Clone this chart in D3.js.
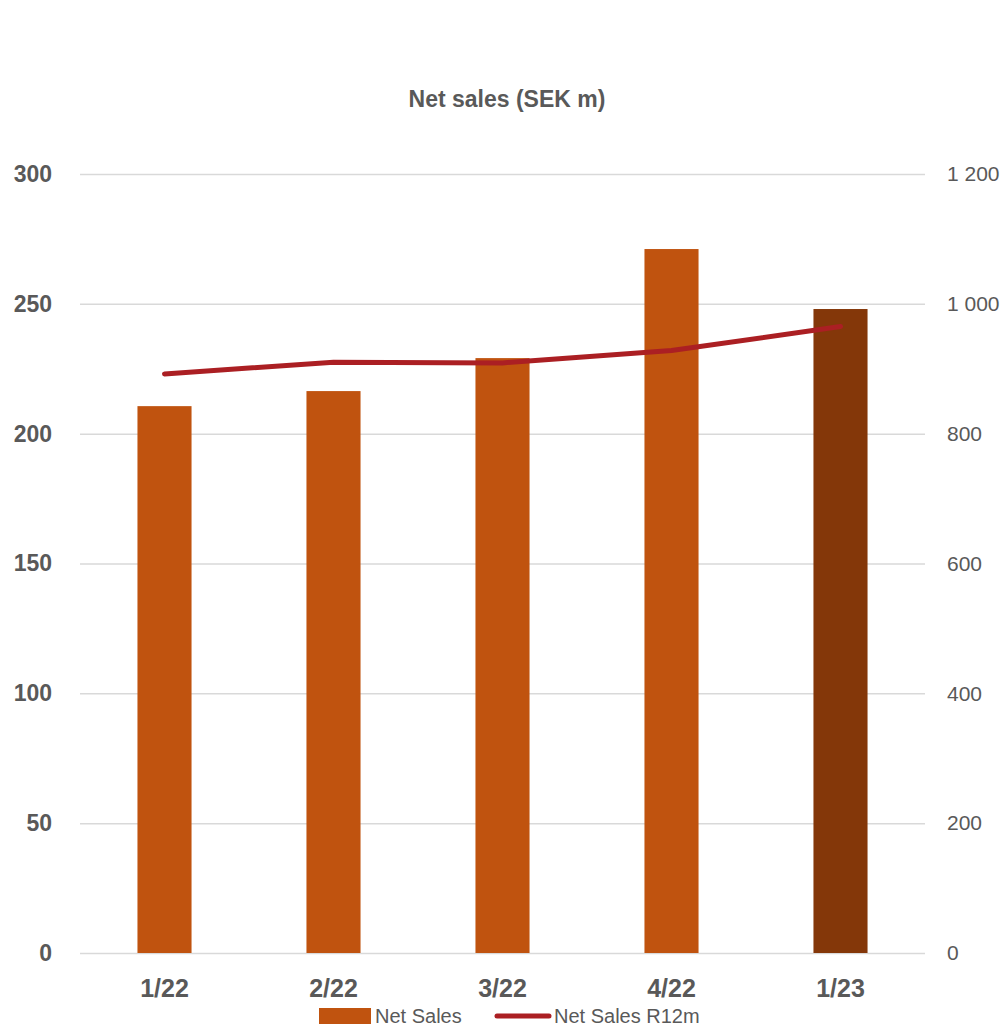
<!DOCTYPE html>
<html>
<head>
<meta charset="utf-8">
<script src="https://cdn.jsdelivr.net/npm/d3@7"></script>
<style>
body { margin: 0; background: #fff; }
svg { font-family: "Liberation Sans", sans-serif; }
</style>
</head>
<body>
<svg id="chart" width="1004" height="1026"></svg>
<script>
'use strict';

var arrCategories = ['1/22', '2/22', '3/22', '4/22', '1/23'];
var arrNetSales = [210.6, 216.4, 229.1, 271.1, 248.0];
var arrNetSalesR12m = [892, 910, 909, 928, 965];
var arrLeftTicks = [0, 50, 100, 150, 200, 250, 300];
var arrRightTicks = [0, 200, 400, 600, 800, 1000, 1200];

var svg = d3.select('#chart');
var nLeft = 80, nRight = 925, nTop = 174, nBottom = 953;
var strFont = '"Liberation Sans", sans-serif';

var xScale = d3.scaleBand().domain(arrCategories).range([nLeft, nRight]).paddingInner(0.68).paddingOuter(0.34);
var yLeft = d3.scaleLinear().domain([0, 300]).range([nBottom, nTop]);
var yRight = d3.scaleLinear().domain([0, 1200]).range([nBottom, nTop]);

svg.append('text')
	.attr('x', 507).attr('y', 107)
	.attr('text-anchor', 'middle')
	.attr('font-size', 23).attr('font-weight', 'bold')
	.attr('fill', '#595959')
	.text('Net sales (SEK m)');

// gridlines
svg.append('g')
	.attr('transform', 'translate(' + nLeft + ',0)')
	.call(d3.axisLeft(yLeft).tickValues(arrLeftTicks).tickSize(-(nRight - nLeft)).tickFormat(''))
	.call(function(g) {
		g.select('.domain').remove();
		g.selectAll('line').attr('stroke', '#d9d9d9').attr('stroke-width', 1.5);
	});

// left axis labels
svg.append('g')
	.attr('transform', 'translate(' + nLeft + ',0)')
	.call(d3.axisLeft(yLeft).tickValues(arrLeftTicks).tickSize(0).tickPadding(28))
	.call(function(g) {
		g.select('.domain').remove();
		g.selectAll('text').attr('font-size', 23).attr('font-weight', 'bold').attr('fill', '#595959')
			.attr('font-family', strFont);
	});

// right axis labels
svg.append('g')
	.attr('transform', 'translate(' + nRight + ',0)')
	.call(d3.axisRight(yRight).tickValues(arrRightTicks).tickSize(0).tickPadding(22)
		.tickFormat(function(d) { return d3.format(',')(d).replace(',', ' '); }))
	.call(function(g) {
		g.select('.domain').remove();
		g.selectAll('text').attr('font-size', 21).attr('fill', '#595959')
			.attr('font-family', strFont);
	});

// bars
svg.selectAll('rect.bar')
	.data(arrNetSales)
	.enter()
	.append('rect')
	.attr('class', 'bar')
	.attr('x', function(d, i) { return xScale(arrCategories[i]); })
	.attr('width', xScale.bandwidth())
	.attr('y', function(d) { return yLeft(d); })
	.attr('height', function(d) { return nBottom - yLeft(d); })
	.attr('fill', function(d, i) { return i == arrNetSales.length - 1 ? '#843709' : '#c0530f'; });

// line
var line = d3.line()
	.x(function(d, i) { return xScale(arrCategories[i]) + xScale.bandwidth() / 2; })
	.y(function(d) { return yRight(d); });

svg.append('path')
	.datum(arrNetSalesR12m)
	.attr('d', line)
	.attr('fill', 'none')
	.attr('stroke', '#ab1f23')
	.attr('stroke-width', 5)
	.attr('stroke-linecap', 'round')
	.attr('stroke-linejoin', 'round');

// x axis labels
svg.append('g')
	.attr('transform', 'translate(0,' + nBottom + ')')
	.call(d3.axisBottom(xScale).tickSize(0).tickPadding(26))
	.call(function(g) {
		g.select('.domain').remove();
		g.selectAll('text').attr('font-size', 25).attr('font-weight', 'bold').attr('fill', '#595959')
			.attr('font-family', strFont);
	});

// legend
var legend = svg.append('g').attr('font-size', 20).attr('fill', '#595959');
legend.append('rect').attr('x', 319).attr('y', 1008).attr('width', 52).attr('height', 16).attr('fill', '#c0530f');
legend.append('text').attr('x', 375).attr('y', 1023).text('Net Sales');
legend.append('line').attr('x1', 497).attr('x2', 549).attr('y1', 1016).attr('y2', 1016)
	.attr('stroke', '#ab1f23').attr('stroke-width', 5).attr('stroke-linecap', 'round');
legend.append('text').attr('x', 554).attr('y', 1023).text('Net Sales R12m');
</script>
</body>
</html>
